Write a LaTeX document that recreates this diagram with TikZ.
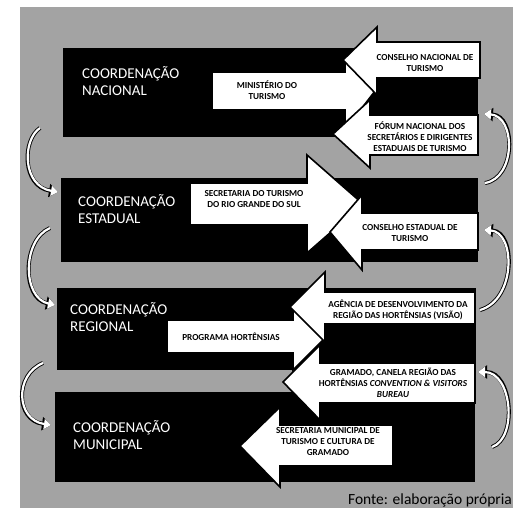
\documentclass[tikz,border=0pt]{standalone}
\usepackage{fontspec}
\setmainfont{Carlito}
\usetikzlibrary{arrows.meta}

\begin{document}
\begin{tikzpicture}[x=1pt,y=-1pt,
	panel/.style={fill=black!36},
	rowbox/.style={fill=black},
	blockarrow/.style={fill=white,draw=black,line width=1.6pt,line join=miter},
	title/.style={text=white,anchor=west,align=left,inner sep=0pt,font=\fontsize{15}{17}\selectfont},
	lbl/.style={align=center,inner sep=0pt,font=\fontsize{9.2}{11}\selectfont\bfseries},
	curvearrow/.style={white,line width=2.2pt,-{Triangle[length=7pt,width=10pt]},
		preaction={draw=black,line width=4pt,-{Triangle[length=9pt,width=13pt]}}}]
		\useasboundingbox (0,0) rectangle (516,522);
		\fill[white] (0,0) rectangle (516,522);
		\fill[panel] (20,7) rectangle (513,508);
		% levels
		\fill[rowbox] (63,48) rectangle (478,137);
		\fill[rowbox] (61,178) rectangle (478,262);
		\fill[rowbox] (57,288) rectangle (476,370);
		\fill[rowbox] (55,392) rectangle (475,482);
		\node[title] (nac) at (82,81) {COORDENAÇÃO\\NACIONAL};
		\node[title] (est) at (78,209) {COORDENAÇÃO\\ESTADUAL};
		\node[title] (reg) at (70,317) {COORDENAÇÃO\\REGIONAL};
		\node[title] (mun) at (73,435) {COORDENAÇÃO\\MUNICIPAL};
		% arrows to the right
		\draw[blockarrow] (212,72) -- (345,72) -- (345,53) -- (375,91) -- (345,130) -- (345,110) -- (212,110) -- cycle;
		\draw[blockarrow] (190,183) -- (307,183) -- (307,155) -- (363,204) -- (307,253) -- (307,225) -- (190,225) -- cycle;
		\draw[blockarrow] (167,320) -- (293,320) -- (293,308) -- (325,338) -- (293,370) -- (293,353) -- (167,353) -- cycle;
		% arrows to the left
		\draw[blockarrow] (480,42) -- (377,42) -- (377,27) -- (343,60) -- (377,95) -- (377,78) -- (480,78) -- cycle;
		\draw[blockarrow] (478,115) -- (370,115) -- (370,100) -- (333,134) -- (370,168) -- (370,155) -- (478,155) -- cycle;
		\draw[blockarrow] (478,213) -- (362,213) -- (362,195) -- (330,232) -- (362,270) -- (362,250) -- (478,250) -- cycle;
		\draw[blockarrow] (475,292) -- (325,292) -- (325,272) -- (290,307) -- (325,342) -- (325,324) -- (475,324) -- cycle;
		\draw[blockarrow] (475,363) -- (320,363) -- (320,345) -- (283,382) -- (320,420) -- (320,403) -- (475,403) -- cycle;
		\draw[blockarrow] (393,425) -- (280,425) -- (280,407) -- (240,446) -- (280,487) -- (280,466) -- (393,466) -- cycle;
		\node[lbl] (min) at (267,90) {MINISTÉRIO DO\\TURISMO};
		\node[lbl] (sec) at (254,199) {SECRETARIA DO TURISMO\\DO RIO GRANDE DO SUL};
		\node[lbl] (prog) at (231,337) {PROGRAMA HORTÊNSIAS};
		\node[lbl] (cnt) at (425,63) {CONSELHO NACIONAL DE\\TURISMO};
		\node[lbl] (forum) at (420,137) {FÓRUM NACIONAL DOS\\SECRETÁRIOS E DIRIGENTES\\ESTADUAIS DE TURISMO};
		\node[lbl] (cet) at (410,233) {CONSELHO ESTADUAL DE\\TURISMO};
		\node[lbl] (agen) at (398,310) {AGÊNCIA DE DESENVOLVIMENTO DA\\REGIÃO DAS HORTÊNSIAS (VISÃO)};
		\node[lbl] (gram) at (393,383) {GRAMADO, CANELA REGIÃO DAS\\HORTÊNSIAS \textit{CONVENTION \& VISITORS}\\\textit{BUREAU}};
		\node[lbl] (smt) at (328,442) {SECRETARIA MUNICIPAL DE\\TURISMO E CULTURA  DE\\GRAMADO};
		% links between levels
		\coordinate (l1a) at (40,128);
		\coordinate (l1b) at (58,192);
		\coordinate (l2a) at (50,228);
		\coordinate (l2b) at (55,305);
		\coordinate (l3a) at (43,363);
		\coordinate (l3b) at (51,425);
		\coordinate (r1a) at (485,183);
		\coordinate (r1b) at (484,114);
		\coordinate (r2a) at (480,310);
		\coordinate (r2b) at (484,230);
		\coordinate (r3a) at (492,447);
		\coordinate (r3b) at (478,372);
		\draw[curvearrow] (l1a) .. controls (22,140) and (22,186) .. (l1b);
		\draw[curvearrow] (l2a) .. controls (22,240) and (22,298) .. (l2b);
		\draw[curvearrow] (l3a) .. controls (14,375) and (16,420) .. (l3b);
		\draw[curvearrow] (r1a) .. controls (516,178) and (516,116) .. (r1b);
		\draw[curvearrow] (r2a) .. controls (516,300) and (516,232) .. (r2b);
		\draw[curvearrow] (r3a) .. controls (518,438) and (512,372) .. (r3b);
		\node[anchor=east,inner sep=0pt,font=\fontsize{15.5}{17}\selectfont] (fonte) at (512,500) {Fonte: elaboração própria};
		\end{tikzpicture}
\end{document}
